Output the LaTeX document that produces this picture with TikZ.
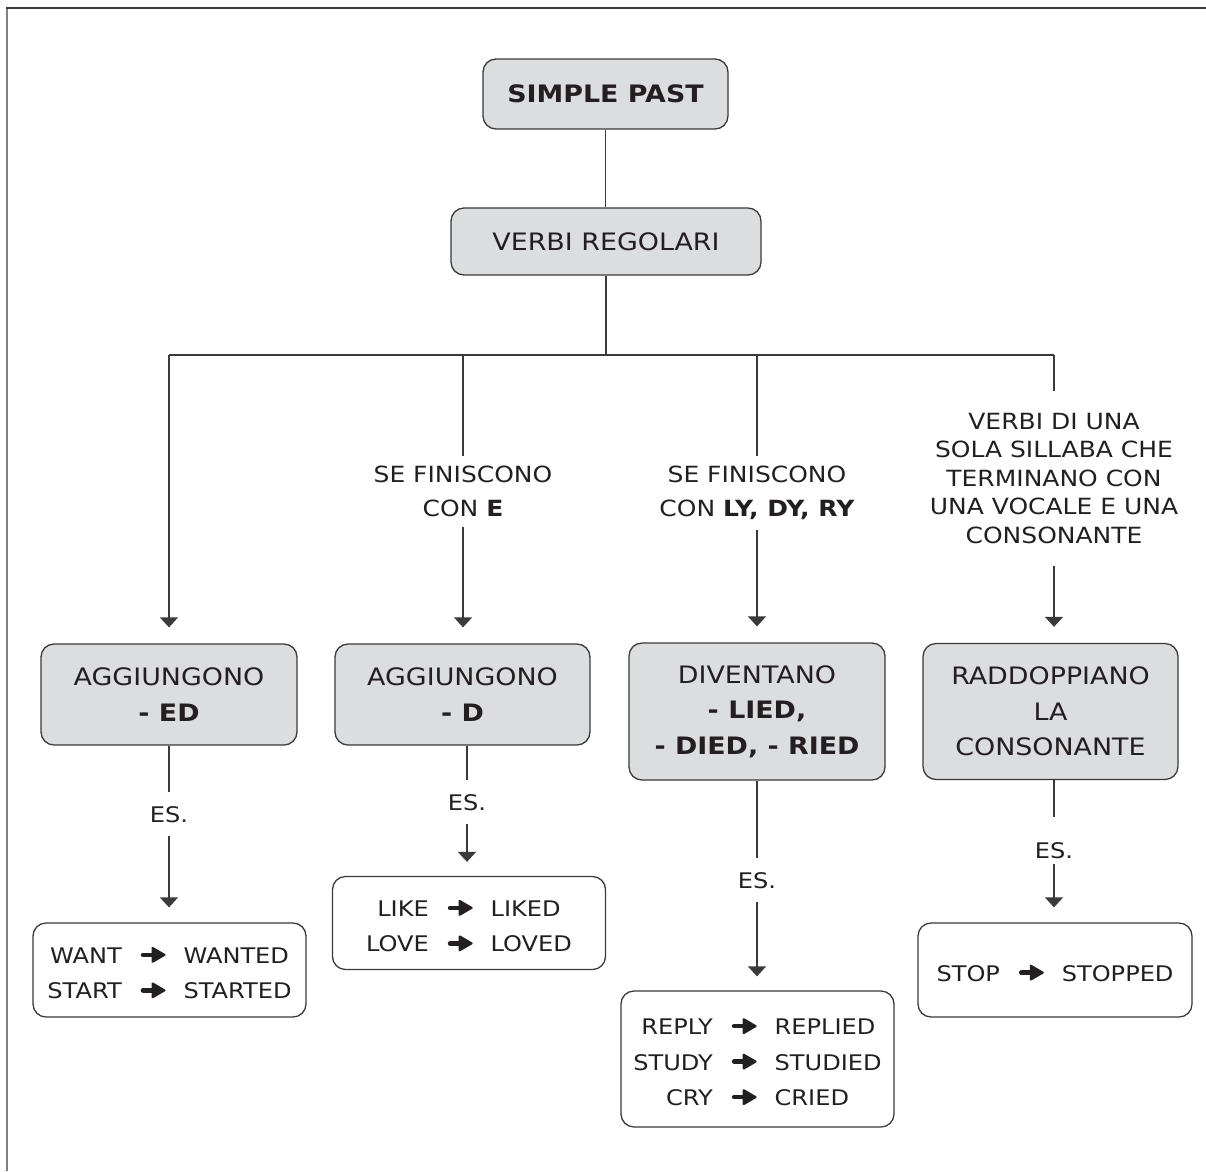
\documentclass[tikz,border=0pt]{standalone}
\usepackage{fontspec}
\setmainfont{DejaVu Sans}[FakeStretch=1.12]
\usetikzlibrary{arrows.meta}
\definecolor{boxgray}{HTML}{DCDDDF}
\definecolor{linec}{HTML}{3A3A3A}
\definecolor{txt}{HTML}{231F20}
\definecolor{framel}{HTML}{808080}
\newsavebox{\arrbox}
\newcommand{\rarr}{\raisebox{0.5pt}{\usebox{\arrbox}}}
\newcommand{\rows}[1]{\raisebox{-4pt}[\height][\depth]{\begin{tabular}{@{}r@{\hspace{19pt}}c@{\hspace{18pt}}l@{}}#1\end{tabular}}}
\begin{document}
\sbox{\arrbox}{\begin{pgfpicture}%
 \pgfsetcolor{txt}%
 \pgfsetlinewidth{4.6pt}\pgfsetroundcap
 \pgfpathmoveto{\pgfpoint{1.5pt}{0pt}}\pgfpathlineto{\pgfpoint{14pt}{0pt}}\pgfusepath{stroke}%
 \pgfsetroundjoin\pgfsetlinewidth{2pt}%
 \pgfpathmoveto{\pgfpoint{11pt}{7pt}}\pgfpathlineto{\pgfpoint{23pt}{0pt}}\pgfpathlineto{\pgfpoint{11pt}{-7pt}}\pgfpathclose\pgfusepath{fill,stroke}%
\end{pgfpicture}}%
\begin{tikzpicture}[x=1pt,y=-1pt,
 conn/.style={draw=linec, line width=1.3pt},
 arr/.style={conn, -{Triangle[width=18pt,length=10pt]}},
 gbox/.style={draw=linec, line width=1.3pt, rounded corners=13pt, fill=boxgray, text=txt, align=center, inner sep=0pt, font=\fontsize{24}{35.5}\selectfont},
 wbox/.style={gbox, fill=white, font=\fontsize{21.5}{35.5}\selectfont},
 lab/.style={text=txt, align=center, inner xsep=0pt, inner ysep=10pt, font=\fontsize{22.3}{34}\selectfont},
 es/.style={text=txt, inner xsep=0pt, inner ysep=14pt, text height=16pt, text depth=0pt, font=\fontsize{21.5}{26}\selectfont}]
\useasboundingbox (0,0) rectangle (1206,1171);
\fill[white] (0,0) rectangle (1206,1171);
% frame
\draw[framel, line width=2pt] (7,1171) -- (7,8);
\draw[linec, line width=1.5pt] (6,8) -- (1206,8);

% top
\node[gbox, minimum width=245pt, minimum height=70pt, font=\fontsize{24}{30}\selectfont\bfseries] (sp) at (605.5,94) {SIMPLE PAST};
\node[gbox, minimum width=310pt, minimum height=67pt] (vr) at (606,241.5) {VERBI REGOLARI};
\coordinate (j) at (606,355);
\coordinate (c1) at (169,355);
\coordinate (c2) at (463,355);
\coordinate (c3) at (757,355);
\coordinate (c4) at (1054,355);

% middle boxes
\node[gbox, minimum width=256pt, minimum height=101pt] (b1) at (169,694.5) {AGGIUNGONO\\\textbf{- ED}};
\node[gbox, minimum width=255pt, minimum height=101pt] (b2) at (462.5,694.5) {AGGIUNGONO\\\textbf{- D}};
\node[gbox, minimum width=256pt, minimum height=137pt] (b3) at (757,711.5) {DIVENTANO\\\textbf{- LIED,}\\\textbf{- DIED, - RIED}};
\node[gbox, minimum width=255pt, minimum height=136pt] (b4) at (1050.5,711.5) {RADDOPPIANO\\LA\\CONSONANTE};

% labels
\node[lab, anchor=north] (l2) at (463,456) {SE FINISCONO\\CON \textbf{E}};
\node[lab, anchor=north] (l3) at (757,456) {SE FINISCONO\\CON \textbf{LY, DY, RY}};
\node[lab, anchor=north, inner ysep=22pt, font=\fontsize{22.3}{28.5}\selectfont] (l4) at (1054,391) {VERBI DI UNA\\SOLA SILLABA CHE\\TERMINANO CON\\UNA VOCALE E UNA\\CONSONANTE};

\node[es] (e1) at (169,814) {ES.};
\node[es] (e2) at (467,802) {ES.};
\node[es] (e3) at (757,880) {ES.};
\node[es, inner ysep=6pt] (e4) at (1054,850) {ES.};

% bottom boxes
\node[wbox, minimum width=273pt, minimum height=94pt] (w1) at (169.5,970) {\rows{WANT & \rarr & WANTED\\ START & \rarr & STARTED}};
\node[wbox, minimum width=273pt, minimum height=93pt] (k2) at (469,923) {\rows{LIKE & \rarr & LIKED\\ LOVE & \rarr & LOVED}};
\node[wbox, minimum width=273pt, minimum height=136pt] (r3) at (757.5,1059) {\rows{REPLY & \rarr & REPLIED\\ STUDY & \rarr & STUDIED\\ CRY & \rarr & CRIED}};
\node[wbox, minimum width=274pt, minimum height=94pt] (s4) at (1055,970) {\rows{STOP & \rarr & STOPPED}};

% connectors
\draw[conn] (sp.south) -- (sp.south |- vr.north);
\draw[conn] (vr.south) -- (j);
\draw[conn] (c1) -- (c4);
\draw[arr, shorten >=16pt] (c1) -- (b1.north);
\draw[conn] (c2) -- (l2.north);
\draw[arr, shorten >=16pt] (l2.south) -- (l2.south |- b2.north);
\draw[conn] (c3) -- (l3.north);
\draw[arr, shorten >=16pt] (l3.south) -- (b3.north);
\draw[conn] (c4) -- (l4.north);
\draw[arr, shorten >=16pt] (l4.south) -- (l4.south |- b4.north);

\draw[conn] (b1.south) -- (e1.north);
\draw[arr, shorten >=15pt] (e1.south) -- (e1.south |- w1.north);
\draw[conn] (e2.north |- b2.south) -- (e2.north);
\draw[arr, shorten >=14pt] (e2.south) -- (e2.south |- k2.north);
\draw[conn] (b3.south) -- (e3.north);
\draw[arr, shorten >=14pt] (e3.south) -- (e3.south |- r3.north);
\draw[conn, shorten >=19pt] (e4.north |- b4.south) -- (e4.north);
\draw[arr, shorten >=15pt] (e4.south) -- (e4.south |- s4.north);
\end{tikzpicture}
\end{document}
